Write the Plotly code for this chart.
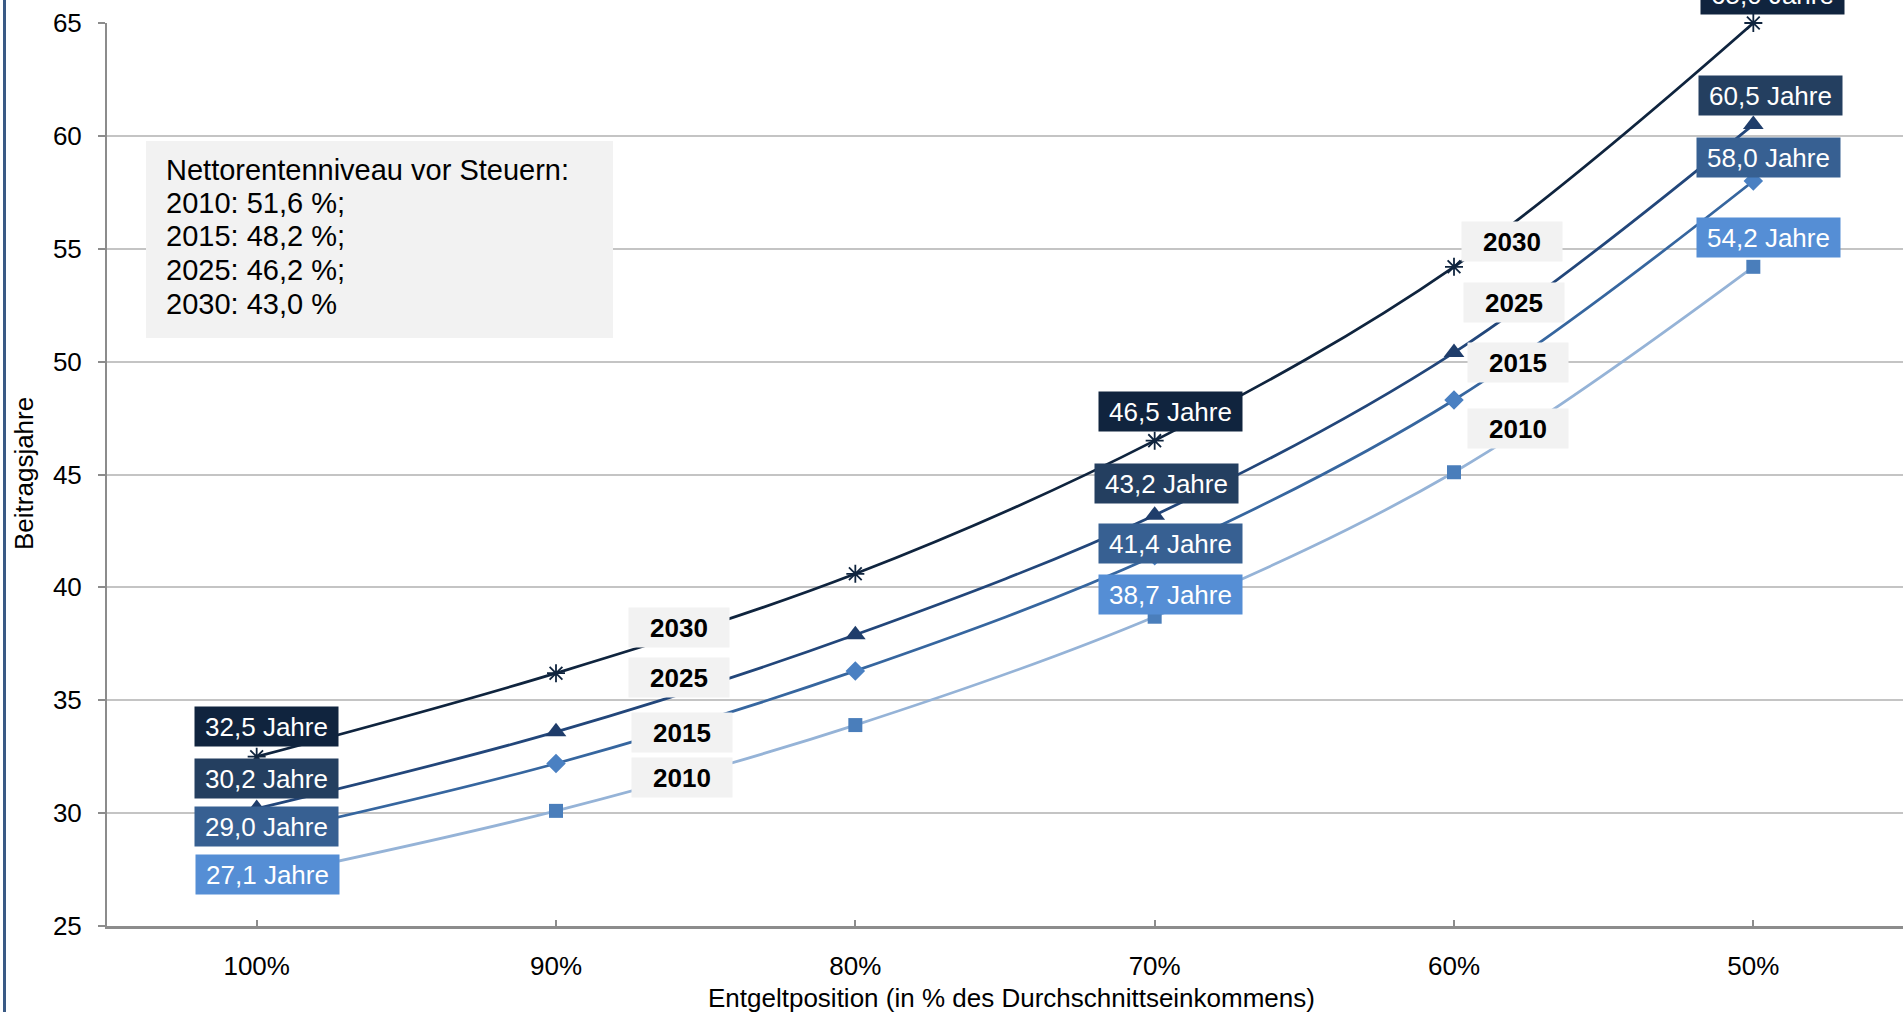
import plotly.graph_objects as go

# ---------------- data ----------------
categories = ["100%", "90%", "80%", "70%", "60%", "50%"]
years = ["2030", "2025", "2015", "2010"]
values_2030 = [32.5, 36.2, 40.6, 46.5, 54.2, 65.0]
values_2025 = [30.2, 33.6, 37.9, 43.2, 50.4, 60.5]
values_2015 = [29.0, 32.2, 36.3, 41.4, 48.3, 58.0]
values_2010 = [27.1, 30.1, 33.9, 38.7, 45.1, 54.2]
labelled_categories = ["100%", "70%", "50%"]
note_lines = ["Nettorentenniveau vor Steuern:", "2010: 51,6 %;", "2015: 48,2 %;",
              "2025: 46,2 %;", "2030: 43,0 %"]
y_tick_values = [25, 30, 35, 40, 45, 50, 55, 60, 65]
x_title = "Entgeltposition (in % des Durchschnittseinkommens)"
y_title = "Beitragsjahre"

series_values = {"2030": values_2030, "2025": values_2025,
                 "2015": values_2015, "2010": values_2010}

# ---------------- layout / style ----------------
W, H = 1903, 1012
ML, MR, MT, MB = 107, 0, 23, 86
PW, PH = W - ML - MR, H - MT - MB
FONT = "Liberation Sans, Arial, Helvetica, sans-serif"


def px_x(px):
    return (px - ML) / PW


def px_y(py):
    return 1 - (py - MT) / PH


styles = {
    "2030": dict(line="#0f243e", marker="#0f243e", symbol="asterisk-open", size=15,
                 box="#10243e",
                 shifts=[(10, 30), (16, 29), (19, 29)]),
    "2025": dict(line="#22467a", marker="#1f3d6b", symbol="triangle-up", size=18,
                 box="#243f60",
                 shifts=[(10, 30), (12, 32), (17, 29)]),
    "2015": dict(line="#36669f", marker="#4a80c2", symbol="diamond", size=15,
                 box="#376092",
                 shifts=[(10, 9), (16, 12), (15, 24)]),
    "2010": dict(line="#95b3d7", marker="#4a7ebb", symbol="square", size=14,
                 box="#558ed5",
                 shifts=[(11, 4), (16, 22), (15, 29)]),
}

# year-tag box positions (category index, y value)
year_tag_pos_left = {"2030": (1.41, 38.24), "2025": (1.41, 35.99),
                     "2015": (1.42, 33.55), "2010": (1.42, 31.6)}
year_tag_pos_right = {"2030": (4.195, 55.34), "2025": (4.20, 52.6),
                      "2015": (4.215, 49.98), "2010": (4.215, 47.06)}

x_idx = list(range(len(categories)))

fig = go.Figure()
for yr in years:
    st = styles[yr]
    fig.add_trace(go.Scatter(
        x=x_idx, y=series_values[yr], mode="lines+markers", name=yr,
        line=dict(color=st["line"], width=2.75, shape="spline"),
        marker=dict(symbol=st["symbol"], size=st["size"], color=st["marker"],
                    line=dict(color=st["marker"], width=1.8 if "open" in st["symbol"] else 0)),
        cliponaxis=False, hoverinfo="skip", showlegend=False,
    ))

annotations = []
# value labels
for yr in years:
    st = styles[yr]
    vals = series_values[yr]
    for k, cat in enumerate(labelled_categories):
        i = categories.index(cat)
        v = vals[i]
        dx, dy = st["shifts"][k]
        annotations.append(dict(
            x=i, y=v, xref="x", yref="y", xshift=dx, yshift=dy,
            text=f"{v:.1f}".replace(".", ",") + " Jahre",
            showarrow=False, bgcolor=st["box"], width=143, height=39, borderpad=0,
            font=dict(family=FONT, size=26, color="white"),
            xanchor="center", yanchor="middle",
        ))

# year tags
for pos in (year_tag_pos_left, year_tag_pos_right):
    for yr in years:
        xx, yy = pos[yr]
        annotations.append(dict(
            x=xx, y=yy, xref="x", yref="y", text=f"<b>{yr}</b>", showarrow=False,
            bgcolor="#f2f2f2", width=100, height=39, borderpad=0,
            font=dict(family=FONT, size=26, color="black"),
            xanchor="center", yanchor="middle",
        ))

# note text
note_centers = [170, 203, 236.5, 270, 303.5]
for line, cy in zip(note_lines, note_centers):
    annotations.append(dict(
        x=px_x(164), y=px_y(cy), xref="paper", yref="paper", text=line,
        showarrow=False, xanchor="left", yanchor="middle",
        font=dict(family=FONT, size=29, color="black"),
    ))

# axis titles
annotations.append(dict(
    x=px_x(1011), y=px_y(998), xref="paper", yref="paper", text=x_title,
    showarrow=False, xanchor="center", yanchor="middle",
    font=dict(family=FONT, size=26, color="black"),
))
annotations.append(dict(
    x=px_x(24), y=px_y(474), xref="paper", yref="paper", text=y_title,
    showarrow=False, xanchor="center", yanchor="middle", textangle=-90,
    font=dict(family=FONT, size=26, color="black"),
))

shapes = [
    # note box
    dict(type="rect", xref="paper", yref="paper",
         x0=px_x(146), x1=px_x(613), y0=px_y(338), y1=px_y(141),
         fillcolor="#f2f2f2", line=dict(width=0), layer="above"),
    # left frame line
    dict(type="line", xref="paper", yref="paper",
         x0=px_x(4.5), x1=px_x(4.5), y0=px_y(H + 5), y1=px_y(-5),
         line=dict(color="#3a5a85", width=3)),
]

fig.update_layout(
    width=W, height=H,
    margin=dict(l=ML, r=MR, t=MT, b=MB, pad=0),
    paper_bgcolor="white", plot_bgcolor="white",
    font=dict(family=FONT, size=26, color="black"),
    showlegend=False, hovermode=False,
    annotations=annotations, shapes=shapes,
    xaxis=dict(
        range=[-0.5, len(categories) - 0.5], tickvals=x_idx, ticktext=categories,
        showgrid=False, zeroline=False,
        showline=True, linecolor="#8c8c8c", linewidth=3,
        ticks="inside", ticklen=6, tickwidth=1.5, tickcolor="#8c8c8c",
        tickfont=dict(family=FONT, size=26, color="black"),
        ticklabelstandoff=15, fixedrange=True,
    ),
    yaxis=dict(
        range=[25, 65], tickvals=y_tick_values,
        showgrid=True, gridcolor="#c4c4c4", gridwidth=2,
        zeroline=False, showline=True, linecolor="#8c8c8c", linewidth=2,
        ticks="outside", ticklen=7, tickwidth=2, tickcolor="#8c8c8c",
        tickfont=dict(family=FONT, size=26, color="black"),
        ticklabelstandoff=11, fixedrange=True,
    ),
)

fig.write_html(
    "out.html",
    config={"displayModeBar": False},
    post_script="document.body.style.margin='0';document.body.style.overflow='hidden';",
)
